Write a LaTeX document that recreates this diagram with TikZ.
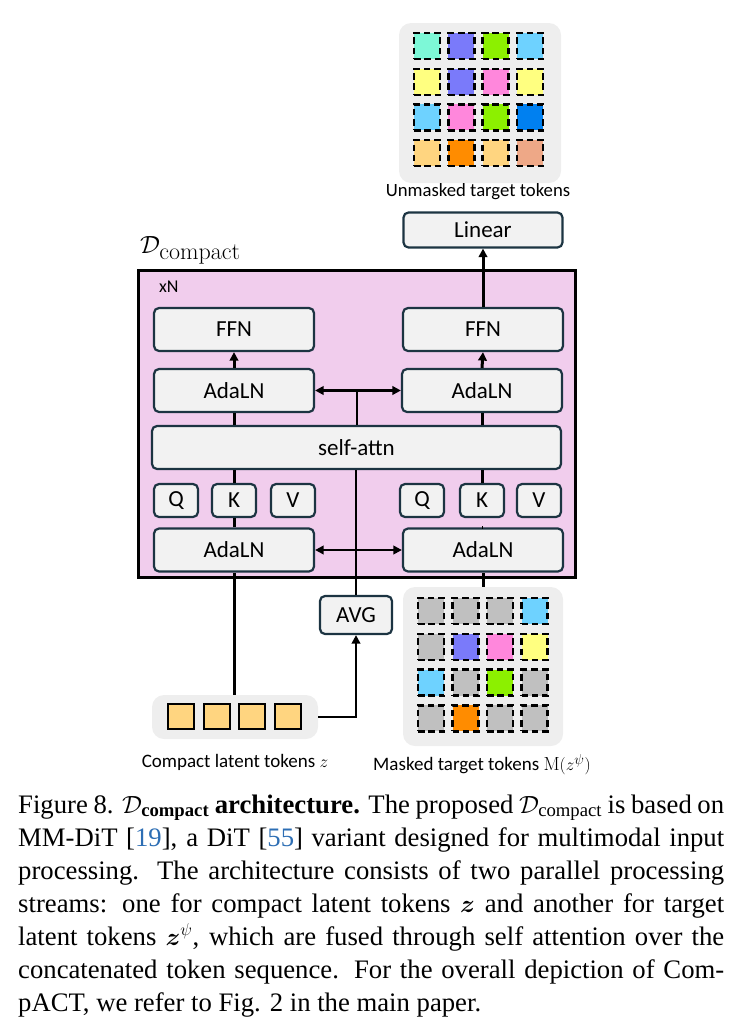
\documentclass[tikz,border=0pt]{standalone}
\usepackage{amsmath}
\usepackage{fontspec}
\newfontfamily\diafont{Carlito}
\newfontfamily\capfont{Liberation Serif}
\usetikzlibrary{arrows.meta,positioning}
\definecolor{boxline}{RGB}{28,52,66}
\definecolor{boxfill}{RGB}{242,242,242}
\definecolor{panelgray}{RGB}{238,238,238}
\definecolor{blockpink}{RGB}{241,205,237}
\definecolor{tokmint}{RGB}{125,248,215}
\definecolor{tokperi}{RGB}{122,122,250}
\definecolor{toklime}{RGB}{140,240,0}
\definecolor{toksky}{RGB}{110,210,255}
\definecolor{tokyellow}{RGB}{255,255,128}
\definecolor{tokpink}{RGB}{255,135,220}
\definecolor{tokblue}{RGB}{0,128,240}
\definecolor{tokpeach}{RGB}{255,213,128}
\definecolor{tokorange}{RGB}{255,140,0}
\definecolor{toksalmon}{RGB}{238,168,135}
\definecolor{tokgray}{RGB}{192,192,192}
\definecolor{citeblue}{RGB}{45,110,180}

\begin{document}
\begin{tikzpicture}[x=1pt, y=-1pt, >={Triangle[length=8.5pt,width=8.5pt]},
    panel/.style={fill=panelgray, rounded corners=12pt, inner sep=0pt},
    blk/.style={draw=boxline, fill=boxfill, line width=2.2pt, rounded corners=5pt, inner sep=0pt,
        font=\diafont\fontsize{23}{23}\selectfont},
    wide/.style={blk, minimum width=160pt, minimum height=43pt},
    qkv/.style={blk, minimum width=44pt, minimum height=33pt},
    token/.style={draw=black, line width=2.4pt, dash pattern=on 6.5pt off 3.8pt, minimum size=26pt, inner sep=0pt},
    ztoken/.style={draw=black, line width=2pt, fill=tokpeach, minimum width=26pt, minimum height=25pt, inner sep=0pt},
    lbl/.style={font=\diafont\fontsize{19}{19}\selectfont, inner sep=0pt},
    stream/.style={line width=3pt},
    link/.style={line width=2.2pt},
    capline/.style={font=\capfont\fontsize{26.7}{33}\selectfont, inner sep=0pt, anchor=base west}]
    \useasboundingbox (0,0) rectangle (744,1034);

    % MM-DiT block
    \node[draw=black, line width=2.5pt, fill=blockpink, minimum width=437pt, minimum height=307pt, inner sep=0pt] (block) at (357,424) {};
    \node[anchor=base west, inner sep=0pt, font=\fontsize{27}{27}\selectfont] (dlabel) at (140,253) {$\mathcal{D}_{\text{\fontsize{24}{24}\selectfont compact}}$};
    \node[lbl, anchor=west, font=\diafont\fontsize{18}{18}\selectfont] (reps) at (159,287) {xN};

    % Left stream (compact tokens)
    \node[wide] (ffnL) at (234,329.5) {FFN};
    \node[wide] (adaTopL) at (234,390.5) {AdaLN};
    \node[qkv] (qL) at (176,500.5) {Q};
    \node[qkv] (kL) at (234,500.5) {K};
    \node[qkv] (vL) at (293,500.5) {V};
    \node[wide] (adaBotL) at (234,550) {AdaLN};

    % Right stream (target tokens)
    \node[wide] (ffnR) at (483,329.5) {FFN};
    \node[wide] (adaTopR) at (482,390.5) {AdaLN};
    \node[qkv] (qR) at (422,500.5) {Q};
    \node[qkv] (kR) at (482,500.5) {K};
    \node[qkv] (vR) at (539,500.5) {V};
    \node[wide] (adaBotR) at (483,550) {AdaLN};

    % Joint attention
    \node[blk, minimum width=409pt, minimum height=43pt] (attn) at (356.5,447.5) {self-attn};
    \node[blk, minimum width=72pt, minimum height=38pt] (avg) at (356,615) {AVG};
    \node[blk, minimum width=159pt, minimum height=35pt] (linear) at (483,230) {Linear};

    % Output tokens
    \node[panel, minimum width=162pt, minimum height=160pt] (outPanel) at (480,103) {};
    \foreach \tok [count=\i from 0] in {tokmint,tokperi,toklime,toksky,
        tokyellow,tokperi,tokpink,tokyellow,
        toksky,tokpink,toklime,tokblue,
        tokpeach,tokorange,tokpeach,toksalmon}{
        \pgfmathsetmacro\cx{427+34.3*mod(\i,4)}
        \pgfmathsetmacro\cy{46+35.7*floor(\i/4)}
        \node[token, fill=\tok] (out-\i) at (\cx,\cy) {};
    }
    \node[lbl, font=\diafont\fontsize{18.7}{18.7}\selectfont] (outText) at (478,192) {Unmasked target tokens};

    % Masked target tokens
    \node[panel, minimum width=160pt, minimum height=159pt] (maskPanel) at (483,666.5) {};
    \foreach \tok [count=\i from 0] in {tokgray,tokgray,tokgray,toksky,
        tokgray,tokperi,tokpink,tokyellow,
        toksky,tokgray,toklime,tokgray,
        tokgray,tokorange,tokgray,tokgray}{
        \pgfmathsetmacro\cx{431+34.5*mod(\i,4)}
        \pgfmathsetmacro\cy{611+35.8*floor(\i/4)}
        \node[token, fill=\tok] (mask-\i) at (\cx,\cy) {};
    }
    \node[lbl] (maskText) at (482,765) {Masked target tokens $\mathrm{M}(z^{\psi})$};

    % Compact latent tokens
    \node[panel, minimum width=166pt, minimum height=44pt] (zPanel) at (235,717) {};
    \foreach \k in {0,...,3}
        \node[ztoken] (z-\k) at ({181+35.7*\k},716.5) {};
    \node[lbl] (zText) at (235,762) {Compact latent tokens $z$};

    % Connectors, left stream
    \draw[stream] (zPanel.north -| adaBotL) -- (adaBotL.south);
    \draw[stream] (adaBotL.north) -- (kL.south);
    \draw[stream] (kL.north) -- (kL.north |- attn.south);
    \draw[stream] (attn.north -| adaTopL) -- (adaTopL.south);
    \draw[stream, ->] (adaTopL.north) -- (ffnL.south);

    % Connectors, right stream
    \draw[stream] (maskPanel.north) -- (adaBotR.south);
    \draw[stream] (adaBotR.north) -- (adaBotR.north -| kR);
    \draw[stream] (kR.north) -- (kR.north |- attn.south);
    \draw[stream] (attn.north -| adaTopR) -- (adaTopR.south);
    \draw[stream, ->] (adaTopR.north) -- (ffnR.south);
    \draw[stream, ->] (ffnR.north) -- (linear.south);

    % Conditioning path
    \coordinate (hub) at (357,390.5);
    \draw[link, ->] (zPanel.east) -| (avg.south);
    \draw[link] (avg.north) -- (attn.south -| avg.north);
    \draw[link] (attn.north -| hub) -- (hub);
    \draw[link, <->] (adaTopL.east) -- (adaTopR.west);
    \draw[link, <->] (adaBotL.east) -- (adaBotR.west);

    % Caption
    \node[capline] (cap1) at (18,813) {\makebox[706pt][s]{Figure 8. $\mathcal{D}_{\text{\bfseries compact}}$ \textbf{architecture.} The proposed $\mathcal{D}_{\text{compact}}$ is based on}};
    \node[capline] (cap2) at (18,846) {\makebox[706pt][s]{MM-DiT [\textcolor{citeblue}{19}], a DiT [\textcolor{citeblue}{55}] variant designed for multimodal input}};
    \node[capline] (cap3) at (18,879) {\makebox[706pt][s]{processing.  The architecture consists of two parallel processing}};
    \node[capline] (cap4) at (18,912) {\makebox[706pt][s]{streams:  one for compact latent tokens $\boldsymbol{z}$ and another for target}};
    \node[capline] (cap5) at (18,945) {\makebox[706pt][s]{latent tokens $\boldsymbol{z}^{\psi}$, which are fused through self attention over the}};
    \node[capline] (cap6) at (18,978) {\makebox[706pt][s]{concatenated token sequence.  For the overall depiction of Com-}};
    \node[capline] (cap7) at (18,1011) {pACT, we refer to Fig. 2 in the main paper.};
\end{tikzpicture}
\end{document}
